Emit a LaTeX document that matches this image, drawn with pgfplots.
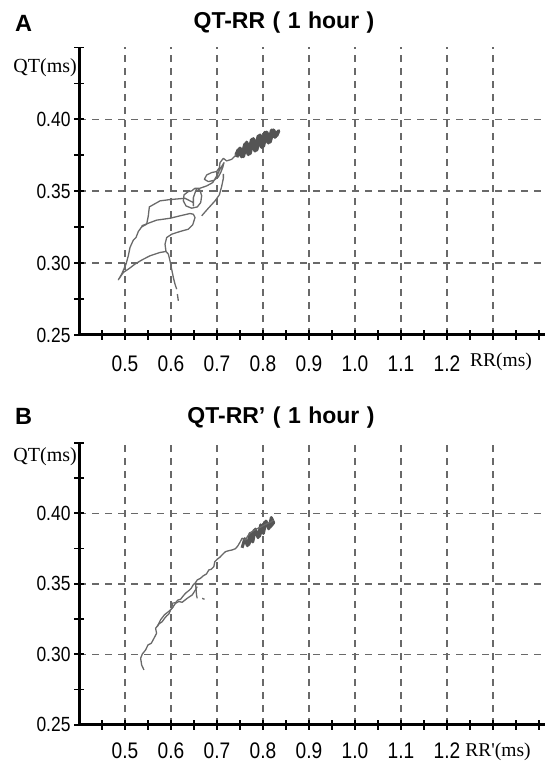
\documentclass[border=0pt]{standalone}
\usepackage{pgfplots}
\pgfplotsset{compat=1.18}
\usepackage{fontspec}
\setmainfont{Liberation Sans}
\newfontfamily\serif{Liberation Serif}
\newfontfamily\narrowsans[FakeStretch=0.85]{Liberation Sans}

\definecolor{gridgray}{RGB}{105,105,105}
\definecolor{tracegray}{RGB}{105,105,105}
\definecolor{blobgray}{RGB}{85,85,85}

\pgfplotsset{
  panel/.style={
    scale only axis, width=466pt,
    xmin=0.4, xmax=1.413, ymin=0.25, ymax=0.45,
    axis lines*=left,
    axis line style={line width=3pt, black},
    xtick={0.5,0.6,0.7,0.8,0.9,1.0,1.1,1.2,1.3},
    xticklabels={0.5,0.6,0.7,0.8,0.9,1.0,1.1,1.2,{}},
    minor xtick={0.45,0.55,0.65,0.75,0.85,0.95,1.05,1.15,1.25,1.35,1.4},
    ytick={0.25,0.30,0.35,0.40},
    yticklabels={0.25,0.30,0.35,0.40},
    minor ytick={0.275,0.325,0.375,0.425,0.45},
    tick align=center,
    major tick length=10pt, minor tick length=10pt,
    tick style={line width=1.8pt, black},
    xmajorgrids, ymajorgrids,
    major grid style={gridgray, line width=1.5pt, dash pattern=on 7pt off 6pt},
    yticklabel style={font=\narrowsans\fontsize{20.5}{22}\selectfont},
  },
  trace/.style={tracegray, line width=1.3pt, line join=round, mark=none},
  blob/.style={blobgray, line width=3.5pt, line join=round, mark=none},
}

\begin{document}
\begin{tikzpicture}
\path[use as bounding box] (0pt,0pt) rectangle (545pt,762pt);

% ---------------- panel A ----------------
\begin{axis}[panel, height=287.5pt, at={(79pt,427pt)}, anchor=south west,
  xticklabel style={font=\narrowsans\fontsize{22.5}{24}\selectfont, yshift=-12pt}]
  % dense cluster
  \addplot[blob] coordinates {
    (0.7428,0.3737)(0.7500,0.3799)(0.7572,0.3742)(0.7645,0.3840)(0.7717,0.3762)
    (0.7790,0.3865)(0.7862,0.3787)(0.7935,0.3890)(0.8007,0.3813)(0.8080,0.3910)
    (0.8152,0.3843)(0.8225,0.3925)(0.8297,0.3888)(0.8340,0.3920)
    (0.8261,0.3877)(0.8188,0.3924)(0.8116,0.3837)(0.8043,0.3909)(0.7971,0.3806)
    (0.7899,0.3884)(0.7826,0.3781)(0.7754,0.3859)(0.7681,0.3756)(0.7609,0.3828)
    (0.7536,0.3741)(0.7464,0.3788)(0.7413,0.3752)
  };
  % main trace
  \addplot[trace] coordinates {
    (0.7413,0.3752)(0.7319,0.3722)(0.7210,0.3711)(0.7138,0.3729)(0.7065,0.3699)
    (0.7051,0.3664)(0.6993,0.3637)(0.6884,0.3630)(0.6775,0.3613)(0.6725,0.3583)
    (0.6812,0.3567)(0.6935,0.3576)(0.7029,0.3600)(0.7080,0.3630)(0.7123,0.3664)
    (0.7152,0.3699)(0.7065,0.3653)(0.6993,0.3606)(0.6906,0.3560)(0.6775,0.3537)
    (0.6630,0.3521)(0.6522,0.3521)(0.6449,0.3502)(0.6377,0.3498)(0.6283,0.3475)
    (0.6268,0.3433)(0.6326,0.3398)(0.6449,0.3382)(0.6572,0.3391)(0.6645,0.3421)
    (0.6667,0.3468)(0.6630,0.3507)(0.6558,0.3521)(0.6486,0.3456)(0.6486,0.3398)
    (0.6486,0.3421)(0.6304,0.3451)(0.6051,0.3444)(0.5978,0.3442)(0.5761,0.3433)
    (0.5529,0.3391)(0.5507,0.3329)(0.5471,0.3271)(0.5362,0.3252)(0.5290,0.3220)
    (0.5239,0.3178)(0.5181,0.3160)(0.5109,0.3109)(0.5072,0.3051)(0.5022,0.2993)
    (0.4928,0.2924)(0.4855,0.2884)
    (0.4964,0.2935)(0.5072,0.2958)(0.5217,0.2993)(0.5362,0.3021)(0.5543,0.3051)
    (0.5761,0.3074)(0.5891,0.3081)(0.5942,0.3063)(0.5978,0.3016)(0.6014,0.2958)
    (0.6051,0.2900)(0.6087,0.2854)(0.6123,0.2819)
  };
  \addplot[trace] coordinates {(0.6138,0.2785)(0.6159,0.2738)};
  \addplot[trace] coordinates {
    (0.5891,0.3081)(0.5870,0.3132)(0.5906,0.3178)(0.6014,0.3201)(0.6196,0.3220)
    (0.6377,0.3236)(0.6471,0.3266)(0.6522,0.3317)(0.6486,0.3340)(0.6413,0.3345)
    (0.6196,0.3329)(0.5978,0.3312)(0.5688,0.3299)(0.5486,0.3275)(0.5362,0.3259)
  };
  \addplot[trace] coordinates {
    (0.6667,0.3329)(0.6812,0.3382)(0.6957,0.3433)(0.7051,0.3475)(0.7101,0.3533)
    (0.7138,0.3590)(0.7138,0.3620)
  };
\end{axis}

% ---------------- panel B ----------------
\begin{axis}[panel, height=282pt, at={(79pt,37.2pt)}, anchor=south west,
  xticklabel style={font=\narrowsans\fontsize{22.5}{24}\selectfont, yshift=-9.5pt}]
  \addplot[blob, line width=3pt] coordinates {
    (0.7545,0.3755)(0.7603,0.3820)(0.7661,0.3770)(0.7719,0.3858)(0.7777,0.3797)
    (0.7834,0.3888)(0.7892,0.3827)(0.7950,0.3918)(0.8008,0.3857)(0.8066,0.3945)
    (0.8124,0.3890)(0.8181,0.3970)(0.8232,0.3933)
    (0.8153,0.3902)(0.8037,0.3937)(0.7921,0.3837)(0.7805,0.3878)(0.7690,0.3778)
    (0.7574,0.3808)
  };
  \addplot[trace] coordinates {
    (0.5412,0.2889)(0.5362,0.2924)(0.5340,0.2972)(0.5376,0.3002)(0.5448,0.3031)
    (0.5499,0.3066)(0.5571,0.3078)(0.5629,0.3113)(0.5687,0.3149)(0.5665,0.3184)
    (0.5738,0.3215)(0.5810,0.3232)(0.5860,0.3255)(0.5904,0.3272)(0.5954,0.3286)
    (0.5991,0.3314)(0.6048,0.3338)(0.6020,0.3362)(0.6099,0.3366)(0.6150,0.3385)
    (0.6208,0.3390)(0.6265,0.3414)(0.6316,0.3433)(0.6388,0.3452)(0.6439,0.3468)
    (0.6482,0.3492)(0.6533,0.3508)(0.6569,0.3527)(0.6641,0.3539)(0.6699,0.3556)
    (0.6771,0.3570)(0.6822,0.3598)(0.6873,0.3603)(0.6931,0.3622)(0.6952,0.3657)
    (0.7003,0.3674)(0.7061,0.3688)(0.7133,0.3712)(0.7184,0.3728)(0.7256,0.3735)
    (0.7328,0.3740)(0.7401,0.3749)(0.7451,0.3768)(0.7495,0.3792)(0.7545,0.3823)
    (0.7618,0.3811)(0.7668,0.3839)(0.7726,0.3863)(0.7798,0.3877)(0.7871,0.3891)
    (0.7943,0.3901)(0.8030,0.3917)(0.8102,0.3929)(0.8174,0.3939)(0.8232,0.3953)
  };
  \addplot[trace] coordinates {
    (0.5701,0.3196)(0.5774,0.3245)(0.5860,0.3281)(0.5954,0.3305)(0.6027,0.3328)
    (0.6099,0.3362)(0.6171,0.3374)(0.6244,0.3369)(0.6352,0.3397)(0.6461,0.3421)
    (0.6533,0.3457)(0.6569,0.3480)
  };
  \addplot[trace] coordinates {(0.6533,0.3508)(0.6555,0.3420)(0.6569,0.3397)};
  \addplot[trace] coordinates {(0.6678,0.3397)(0.6728,0.3390)};
\end{axis}

% ---------------- texts ----------------
\node[font=\bfseries\fontsize{23.5}{26}\selectfont] at (23.5pt,738.5pt) {A};
\node[font=\bfseries\fontsize{23}{26}\selectfont] at (284pt,739pt)
  {QT-RR\hspace{7.5pt}(\hspace{7.5pt}1\hspace{7.5pt}hour\hspace{7.5pt})};
\node[font=\serif\fontsize{20}{22}\selectfont, anchor=east, inner sep=0pt] at (77pt,694pt) {QT(ms)};
\node[font=\serif\fontsize{19.5}{22}\selectfont] at (501pt,400pt) {RR(ms)};

\node[font=\bfseries\fontsize{23.5}{26}\selectfont] at (23.5pt,345.5pt) {B};
\node[font=\bfseries\fontsize{23}{26}\selectfont] at (281pt,344.5pt)
  {QT-RR'\hspace{7.5pt}(\hspace{7.5pt}1\hspace{7.5pt}hour\hspace{7.5pt})};
\node[font=\serif\fontsize{20}{22}\selectfont, anchor=east, inner sep=0pt] at (77pt,305.3pt) {QT(ms)};
\node[font=\serif\fontsize{19.5}{22}\selectfont] at (498pt,10.5pt) {RR'(ms)};
\end{tikzpicture}
\end{document}
